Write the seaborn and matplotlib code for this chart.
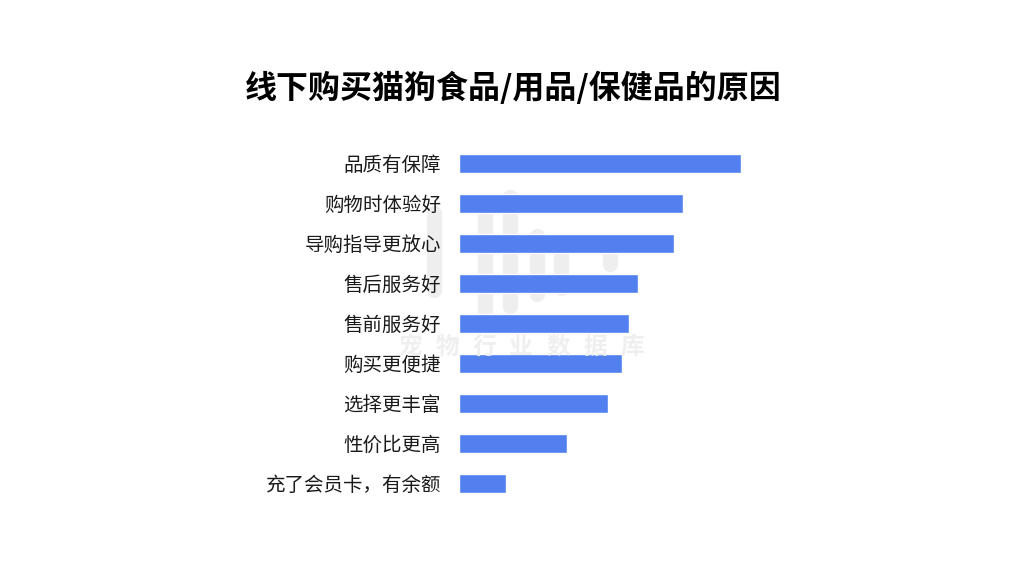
import matplotlib
matplotlib.use("Agg")
import matplotlib.pyplot as plt
import seaborn as sns
import pandas as pd

categories = ["品质有保障", "购物时体验好", "导购指导更放心", "售后服务好", "售前服务好",
              "购买更便捷", "选择更丰富", "性价比更高", "充了会员卡，有余额"]
values = [28.2, 22.4, 21.5, 17.9, 17.0, 16.3, 14.9, 10.8, 4.7]
title = "线下购买猫狗食品/用品/保健品的原因"
watermark = "宠物行业数据库"

sns.set_theme(style="white")
plt.rcParams['font.family'] = ['Noto Sans CJK SC', 'DejaVu Sans']

df = pd.DataFrame({"reason": categories, "value": values})

fig = plt.figure(figsize=(10.24, 5.62), dpi=100)
fig.patch.set_facecolor("white")

# faint watermark (logo strokes + text), behind everything
wm_color = "#eeeeee"
for x, y0, y1 in [(434, 213, 290), (485, 203, 312), (510, 197, 306),
                  (537, 236, 294), (561, 245, 288), (610, 253, 264)]:
    fig.add_artist(plt.Line2D([x / 1024, x / 1024], [1 - y0 / 562, 1 - y1 / 562],
                              color=wm_color, lw=11, solid_capstyle="round", zorder=0))
for i, ch in enumerate(watermark):
    fig.text((410 + 37 * i) / 1024, 1 - 347 / 562, ch, fontsize=17, fontweight="bold",
             color="#efefef", ha="center", va="center", zorder=0)

ax = fig.add_axes([459 / 1024, 1 - 503 / 562, 300 / 1024, 360 / 562])
ax.set_facecolor("none")
sns.barplot(data=df, x="value", y="reason", orient="h", color="#5280EE",
            width=0.475, saturation=1, ax=ax, zorder=2)
ax.set_xlim(0, 30)
ax.set_ylim(8.5, -0.5)
ax.set_xlabel("")
ax.set_ylabel("")
ax.set_xticks([])
for s in ax.spines.values():
    s.set_visible(False)
ax.tick_params(axis="y", length=0, pad=13, labelsize=14, labelcolor="#1a1a1a")

fig.text(513 / 1024, 1 - 88 / 562, title, fontsize=23, fontweight="bold",
         color="#000000", ha="center", va="center")

fig.savefig("out.png", dpi=100, facecolor="white")
